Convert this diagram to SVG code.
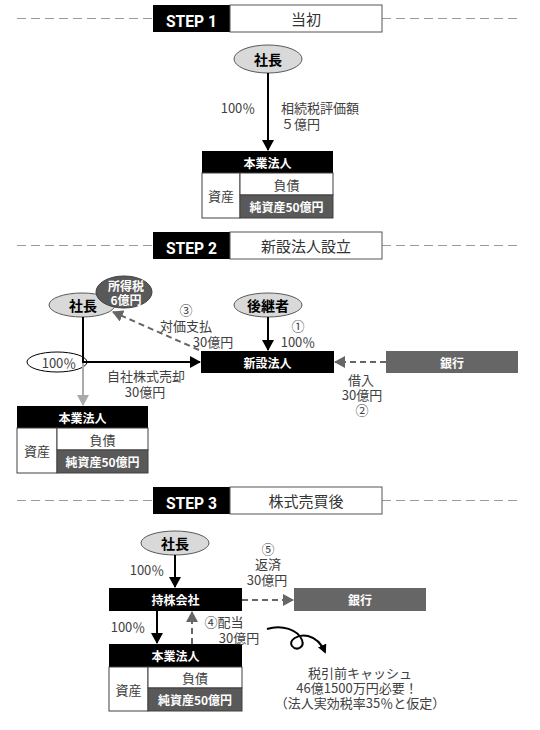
<svg xmlns="http://www.w3.org/2000/svg" width="540" height="730" viewBox="0 0 540 730">
<style>
text { font-family: "Noto Sans CJK JP", "Noto Sans", sans-serif; }
.lbl { font-size: 13px; fill: #404040; text-anchor: middle; dominant-baseline: central; }
.lbs { font-size: 13px; fill: #404040; text-anchor: start; dominant-baseline: central; }
.nb { font-size: 14px; font-weight: bold; fill: #000; text-anchor: middle; dominant-baseline: central; }
.wb { font-size: 12px; font-weight: bold; fill: #fff; text-anchor: middle; dominant-baseline: central; }
.step { font-family: Roboto, "Liberation Sans", sans-serif; font-size: 17px; font-weight: bold; fill: #fff; text-anchor: middle; }
.ttl { font-size: 15px; fill: #333; text-anchor: middle; dominant-baseline: central; }
.div { stroke: #9a9a9a; stroke-width: 1.2; stroke-dasharray: 9 5; fill: none; }
.sb { fill: #000; }
.sw { fill: #fff; stroke: #555; stroke-width: 1; }
.ell { fill: #d9d9d9; stroke: #595959; stroke-width: 1; }
.blk { fill: #000; }
.cell { fill: #fff; stroke: #404040; stroke-width: 1; }
.net { fill: #595959; stroke: #404040; stroke-width: 1; }
.bank { fill: #666; }
.sol { stroke: #000; stroke-width: 2; fill: none; }
.gry { stroke: #aaa; stroke-width: 2; fill: none; }
.dash { stroke: #666; stroke-width: 2; stroke-dasharray: 6 4; fill: none; }
</style>
<defs>
<marker id="ah" viewBox="0 0 11 12" refX="10" refY="6" markerWidth="11" markerHeight="12" markerUnits="userSpaceOnUse" orient="auto"><path d="M0,0 L11,6 L0,12 z" fill="#000"/></marker>
<marker id="ahg" viewBox="0 0 11 12" refX="10" refY="6" markerWidth="11" markerHeight="12" markerUnits="userSpaceOnUse" orient="auto"><path d="M0,0 L11,6 L0,12 z" fill="#aaa"/></marker>
<marker id="ahd" viewBox="0 0 11 12" refX="10" refY="6" markerWidth="11" markerHeight="12" markerUnits="userSpaceOnUse" orient="auto"><path d="M0,0 L11,6 L0,12 z" fill="#666"/></marker>
<marker id="ahs" viewBox="0 0 10 10" refX="8" refY="5" markerWidth="9" markerHeight="9" markerUnits="userSpaceOnUse" orient="auto"><path d="M0,0 L10,5 L0,10 z" fill="#000"/></marker>
</defs>

<!-- STEP 1 -->
<g id="step1-header">
<line class="div" x1="17" y1="18.5" x2="153" y2="18.5"/>
<line class="div" x1="382" y1="18.5" x2="521" y2="18.5"/>
<rect class="sb" x="153" y="5" width="77" height="27"/>
<rect class="sw" x="230" y="5" width="152" height="27"/>
<text class="step" x="191.5" y="26.5" textLength="51" lengthAdjust="spacingAndGlyphs">STEP 1</text>
<text class="ttl" x="306" y="18.5">当初</text>
</g>
<g id="s1-president">
<ellipse class="ell" cx="268" cy="59" rx="34" ry="14"/>
<text class="nb" x="268" y="59">社長</text>
</g>
<g id="s1-company">
<rect class="blk" x="202" y="151" width="131" height="22"/>
<rect class="cell" x="202" y="173" width="38" height="45"/>
<rect class="cell" x="240" y="173" width="93" height="22"/>
<rect class="net" x="240" y="195" width="93" height="23"/>
<text class="wb" x="267.5" y="162">本業法人</text>
<text class="lbl" x="221" y="195.5">資産</text>
<text class="lbl" x="286.5" y="184">負債</text>
<text class="wb" x="286.5" y="206.5">純資産50億円</text>
</g>
<g id="s1-connectors">
<line class="sol" x1="268" y1="73" x2="268" y2="150" marker-end="url(#ah)"/>
<text class="lbl" x="238" y="107">100％</text>
<text class="lbs" x="281" y="107">相続税評価額</text>
<text class="lbs" x="281" y="123">５億円</text>
</g>

<!-- STEP 2 -->
<g id="step2-header">
<line class="div" x1="17" y1="245.5" x2="153" y2="245.5"/>
<line class="div" x1="382" y1="245.5" x2="521" y2="245.5"/>
<rect class="sb" x="153" y="232" width="77" height="27"/>
<rect class="sw" x="230" y="232" width="152" height="27"/>
<text class="step" x="191.5" y="253.5" textLength="51" lengthAdjust="spacingAndGlyphs">STEP 2</text>
<text class="ttl" x="306" y="245.5">新設法人設立</text>
</g>
<g id="s2-president">
<ellipse class="ell" cx="82" cy="305" rx="33" ry="12"/>
<text class="nb" x="83" y="305">社長</text>
</g>
<g id="s2-incometax">
<ellipse cx="124" cy="292" rx="28" ry="16" fill="#595959" stroke="#404040" stroke-width="1"/>
<text class="wb" x="126" y="285">所得税</text>
<text class="wb" x="126" y="299">6億円</text>
</g>
<g id="s2-successor">
<ellipse class="ell" cx="268" cy="305" rx="34" ry="12"/>
<text class="nb" x="268" y="305">後継者</text>
</g>
<g id="s2-newco">
<rect class="blk" x="201" y="351" width="133" height="22"/>
<text class="wb" x="267.5" y="362">新設法人</text>
</g>
<g id="s2-bank">
<rect class="bank" x="386" y="351" width="132" height="22"/>
<text class="wb" x="452" y="362">銀行</text>
</g>
<g id="s2-share">
<ellipse cx="57" cy="362" rx="30" ry="10" fill="#fff" stroke="#000" stroke-width="1"/>
<text class="lbl" x="59" y="362">100％</text>
</g>
<g id="s2-company">
<rect class="blk" x="17" y="406" width="131" height="22"/>
<rect class="cell" x="17" y="428" width="40" height="45"/>
<rect class="cell" x="57" y="428" width="91" height="22"/>
<rect class="net" x="57" y="450" width="91" height="23"/>
<text class="wb" x="82.5" y="417">本業法人</text>
<text class="lbl" x="37" y="450.5">資産</text>
<text class="lbl" x="102.5" y="439">負債</text>
<text class="wb" x="102.5" y="461.5">純資産50億円</text>
</g>
<g id="s2-connectors">
<path class="gry" d="M83,362 V405" marker-end="url(#ahg)"/>
<path class="sol" d="M83,317 V362 H200" marker-end="url(#ah)"/>
<path class="sol" d="M268,317 V350" marker-end="url(#ah)"/>
<path class="dash" d="M386,362 H335" marker-end="url(#ahd)"/>
<path class="dash" d="M199,350 L113,312" marker-end="url(#ahd)"/>
<text class="lbl" x="186" y="309">③</text>
<text class="lbl" x="186" y="325">対価支払</text>
<text class="lbl" x="213" y="341">30億円</text>
<text class="lbl" x="298" y="325">①</text>
<text class="lbl" x="298" y="341">100％</text>
<text class="lbl" x="146" y="375">自社株式売却</text>
<text class="lbl" x="145" y="391">30億円</text>
<text class="lbl" x="361" y="379">借入</text>
<text class="lbl" x="362" y="394">30億円</text>
<text class="lbl" x="362" y="409">②</text>
</g>

<!-- STEP 3 -->
<g id="step3-header">
<line class="div" x1="17" y1="500.5" x2="153" y2="500.5"/>
<line class="div" x1="382" y1="500.5" x2="521" y2="500.5"/>
<rect class="sb" x="153" y="487" width="77" height="27"/>
<rect class="sw" x="230" y="487" width="152" height="27"/>
<text class="step" x="191.5" y="508.5" textLength="51" lengthAdjust="spacingAndGlyphs">STEP 3</text>
<text class="ttl" x="306" y="500.5">株式売買後</text>
</g>
<g id="s3-president">
<ellipse class="ell" cx="175" cy="543" rx="34" ry="12"/>
<text class="nb" x="175" y="543">社長</text>
</g>
<g id="s3-holding">
<rect class="blk" x="109" y="588" width="133" height="23"/>
<text class="wb" x="175.5" y="599.5">持株会社</text>
</g>
<g id="s3-bank">
<rect class="bank" x="294" y="588" width="132" height="23"/>
<text class="wb" x="360" y="599.5">銀行</text>
</g>
<g id="s3-company">
<rect class="blk" x="109" y="644" width="133" height="23"/>
<rect class="cell" x="109" y="667" width="39" height="44"/>
<rect class="cell" x="148" y="667" width="94" height="21"/>
<rect class="net" x="148" y="688" width="94" height="23"/>
<text class="wb" x="175.5" y="655.5">本業法人</text>
<text class="lbl" x="128.5" y="689">資産</text>
<text class="lbl" x="195" y="677.5">負債</text>
<text class="wb" x="195" y="699.5">純資産50億円</text>
</g>
<g id="s3-note">
<text class="lbl" x="360" y="672" font-size="12">税引前キャッシュ</text>
<text class="lbl" x="357" y="687" font-size="12">46億1500万円必要！</text>
<text class="lbl" x="360" y="702" font-size="12">（法人実効税率35％と仮定）</text>
</g>
<g id="s3-connectors">
<path class="sol" d="M175,555 V587" marker-end="url(#ah)"/>
<path class="sol" d="M157,611 V643" marker-end="url(#ah)"/>
<path class="dash" d="M192,644 V612" marker-end="url(#ahd)"/>
<path class="dash" d="M242,600 H293" marker-end="url(#ahd)"/>
<path class="sol" d="M267,629 C282,624 298,630 302,640 C305,648 296,651 292,646 C288,640 298,634 308,636 C316,638 322,645 325,652" marker-end="url(#ahs)"/>
<text class="lbl" x="147" y="569">100％</text>
<text class="lbl" x="128" y="626">100％</text>
<text class="lbl" x="268" y="548">⑤</text>
<text class="lbl" x="268" y="563">返済</text>
<text class="lbl" x="267" y="579">30億円</text>
<text class="lbl" x="224" y="621">④配当</text>
<text class="lbl" x="239" y="637">30億円</text>
</g>
</svg>
